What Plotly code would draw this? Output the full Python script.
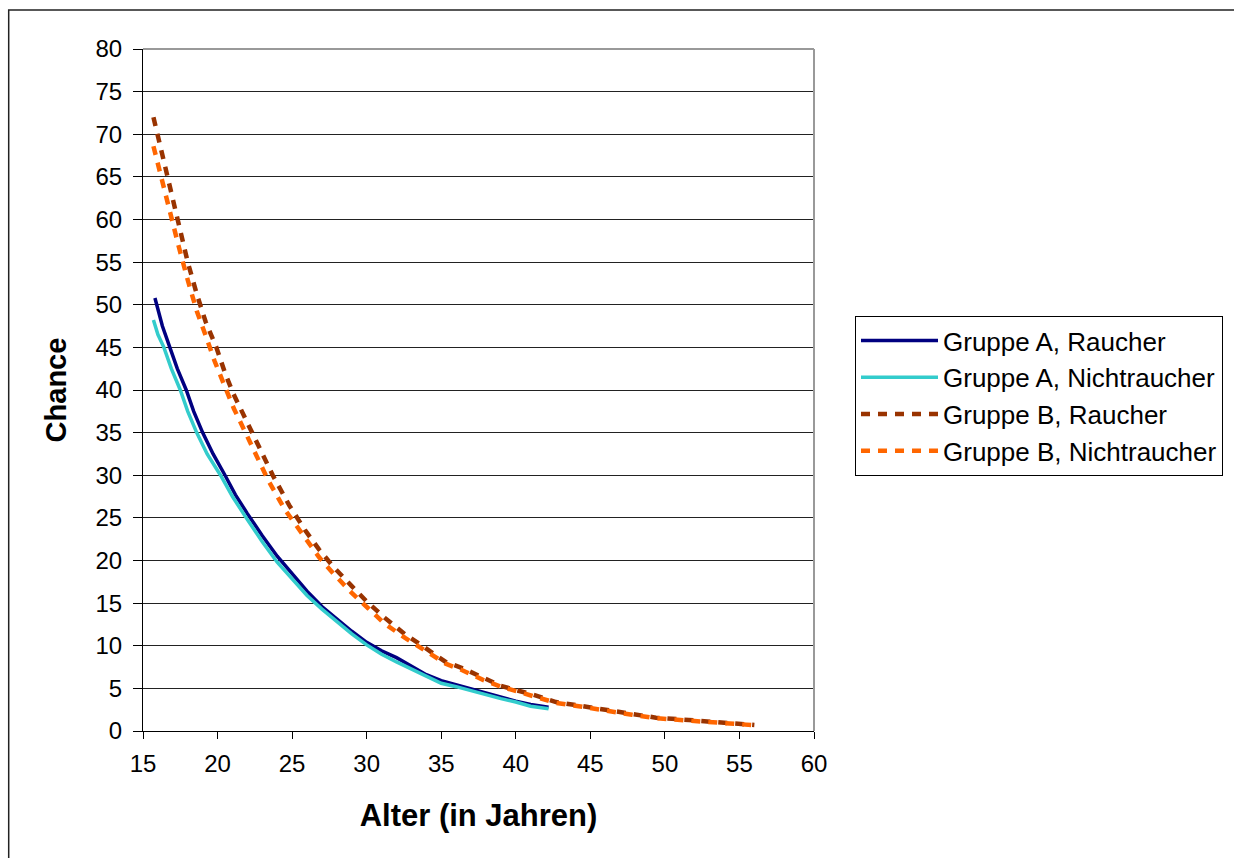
import plotly.graph_objects as go

# ---- data ----
a_r_x = [15.8, 16.3, 16.8, 17.3, 17.9, 18.4, 19.0, 19.7, 20.5, 21.2, 22.0, 23.0, 24.0, 25.0, 26.0, 27.0,
         28.0, 29.0, 30.0, 31.0, 32.0, 33.0, 34.0, 35.0, 36.0, 37.0, 38.0, 39.0, 40.0, 41.0, 42.2]
a_r_y = [50.8, 47.5, 45.0, 42.5, 40.0, 37.5, 35.0, 32.5, 30.0, 27.7, 25.5, 22.9, 20.5, 18.4, 16.4, 14.6,
         13.1, 11.7, 10.4, 9.4, 8.6, 7.6, 6.6, 5.9, 5.4, 4.9, 4.4, 3.9, 3.5, 3.1, 2.8]

a_n_x = [15.7, 16.0, 16.4, 16.9, 17.5, 18.0, 18.6, 19.3, 20.2, 21.0, 22.0, 23.0, 24.0, 25.0, 26.0, 27.0,
         28.0, 29.0, 30.0, 31.0, 32.0, 33.0, 34.0, 35.0, 36.0, 37.0, 38.0, 39.0, 40.0, 41.0, 42.2]
a_n_y = [48.2, 46.5, 45.0, 42.5, 40.0, 37.5, 35.0, 32.5, 30.0, 27.5, 24.8, 22.2, 19.8, 17.8, 15.9, 14.3,
         12.8, 11.4, 10.1, 9.0, 8.1, 7.3, 6.4, 5.6, 5.2, 4.7, 4.2, 3.8, 3.4, 2.9, 2.6]

b_r_x = [15.7, 16.5, 17.0, 17.5, 18.0, 18.6, 19.2, 19.9, 20.5, 21.05, 21.9, 22.8, 23.7, 24.8, 25.85, 26.8,
         27.75, 29.0, 30.0, 31.2, 32.6, 33.8, 35.3, 36.45, 37.8, 39.0, 40.0, 41.1, 42.7, 44.6, 46.05,
         47.8, 49.4, 51.0, 52.6, 54.3, 56.0]
b_r_y = [72.0, 66.0, 62.5, 58.5, 55.0, 51.3, 48.0, 45.1, 42.0, 39.6, 36.5, 33.0, 30.0, 26.5, 23.6, 21.3,
         19.3, 17.0, 15.2, 13.3, 11.3, 9.9, 8.1, 7.35, 6.2, 5.3, 4.8, 4.3, 3.4, 2.85, 2.4,
         1.95, 1.56, 1.37, 1.17, 0.97, 0.7]

b_n_x = [15.7, 16.2, 16.8, 17.4, 18.0, 18.6, 19.3, 19.8, 20.4, 21.1, 21.9, 22.6, 23.4, 24.5, 25.85, 26.8,
         27.75, 29.0, 30.1, 31.2, 32.6, 33.8, 35.3, 36.45, 37.8, 39.0, 40.0, 41.1, 42.7, 44.6, 46.05,
         47.8, 49.4, 51.0, 52.6, 54.3, 56.2]
b_n_y = [68.6, 65.0, 61.0, 56.8, 52.9, 49.3, 45.9, 43.4, 40.8, 37.8, 34.9, 32.2, 29.4, 26.0, 22.6, 20.4,
         18.5, 16.2, 14.4, 12.6, 10.9, 9.6, 7.9, 7.1, 6.0, 5.2, 4.7, 4.2, 3.3, 2.8, 2.35,
         1.9, 1.5, 1.3, 1.1, 0.95, 0.65]

names = ["Gruppe A, Raucher", "Gruppe A, Nichtraucher", "Gruppe B, Raucher", "Gruppe B, Nichtraucher"]
x_ticks = [15, 20, 25, 30, 35, 40, 45, 50, 55, 60]
y_ticks = [0, 5, 10, 15, 20, 25, 30, 35, 40, 45, 50, 55, 60, 65, 70, 75, 80]

FONT = "Liberation Sans, Arial, sans-serif"

fig = go.Figure()
fig.add_trace(go.Scatter(x=a_r_x, y=a_r_y, mode="lines", name=names[0], legendgroup="g1",
                         line=dict(color="#000080", width=3.5)))
fig.add_trace(go.Scatter(x=a_n_x, y=a_n_y, mode="lines", name=names[1], legendgroup="g2",
                         line=dict(color="#33CCCC", width=3.5)))
fig.add_trace(go.Scatter(x=b_r_x, y=b_r_y, mode="lines", name=names[2], legendgroup="g3",
                         line=dict(color="#993300", width=4.5, dash="9px,8px")))
fig.add_trace(go.Scatter(x=b_n_x, y=b_n_y, mode="lines", name=names[3], legendgroup="g4",
                         line=dict(color="#FF6600", width=4.5, dash="9px,8px")))

fig.update_layout(
    width=1234, height=858,
    margin=dict(l=143, r=419, t=49, b=127, pad=0),
    paper_bgcolor="white", plot_bgcolor="white",
    font=dict(family=FONT, size=24, color="black"),
    showlegend=True,
    legend=dict(
        x=(855 - 143) / 672, y=(731 - 316) / 682, xanchor="left", yanchor="top",
        bordercolor="black", borderwidth=1, bgcolor="white",
        font=dict(family=FONT, size=26, color="black"),
        traceorder="grouped", tracegroupgap=0, itemwidth=77,
    ),
    xaxis=dict(
        range=[15, 60], tickvals=x_ticks, ticktext=[str(v) for v in x_ticks],
        showgrid=False, zeroline=False,
        showline=True, linecolor="black", linewidth=1,
        ticks="outside", ticklen=7, tickcolor="black", ticklabelstandoff=4,
        title=dict(text="<b>Alter (in Jahren)</b>", font=dict(size=31), standoff=28),
    ),
    yaxis=dict(
        range=[0, 80], tickvals=y_ticks, ticktext=[str(v) for v in y_ticks],
        showgrid=True, gridcolor="#222222", gridwidth=1, zeroline=False,
        showline=True, linecolor="black", linewidth=1,
        ticks="outside", ticklen=9, tickcolor="black", ticklabelstandoff=6,
        title=dict(text="<b>Chance</b>", font=dict(size=29), standoff=20),
    ),
    shapes=[
        # plot area right/top edge in gray
        dict(type="line", xref="paper", yref="paper", x0=1, x1=1, y0=0, y1=1,
             line=dict(color="#999999", width=2)),
        dict(type="line", xref="paper", yref="paper", x0=0, x1=1, y0=1, y1=1,
             line=dict(color="#999999", width=2)),
        # outer chart frame (left and top visible)
        dict(type="rect", xref="paper", yref="paper",
             x0=(8.5 - 143) / 672, x1=(1300 - 143) / 672,
             y0=(731 - 900) / 682, y1=(731 - 10) / 682,
             line=dict(color="#222222", width=1.5)),
    ],
)

fig.write_html("out.html")
